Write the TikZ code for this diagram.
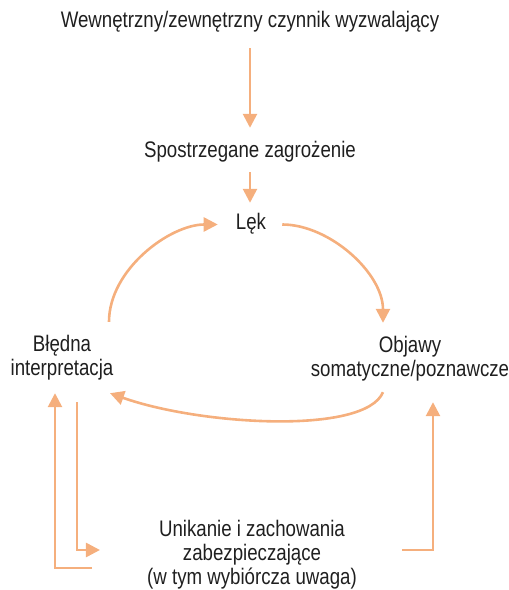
\documentclass[tikz,border=0pt]{standalone}
\usepackage{fontspec}
\setmainfont{Liberation Sans}[FakeStretch=0.83]
\usepackage{tikz}
\usetikzlibrary{arrows.meta}

\definecolor{peach}{RGB}{245,175,125}

\tikzset{
  lbl/.style={inner sep=0pt, font=\fontsize{22.5pt}{24pt}\selectfont, text=black!88},
  one/.style={lbl, text height=16pt, text depth=5pt, anchor=base},
  many/.style={lbl, align=center},
  arr/.style={draw=peach, line width=2.6pt, -{Triangle[width=14pt,length=14pt]}, color=peach}
}

\begin{document}
\begin{tikzpicture}[x=1pt,y=1pt]
\useasboundingbox (0,0) rectangle (509,590);
\node[one] (trig) at (250,562) {Wewnętrzny/zewnętrzny czynnik wyzwalający};
\node[one] (threat) at (250,432) {Spostrzegane zagrożenie};
\node[one] (lek) at (251,360) {Lęk};
\node[many] (blad) at (62,232) {Błędna\\interpretacja};
\node[many] (obj) at (410,231) {Objawy\\somatyczne/poznawcze};
\node[many] (avoid) at (252,35.5) {Unikanie i zachowania\\zabezpieczające\\(w tym wybiórcza uwaga)};
\coordinate (loopend) at (92,22);
% top chain
\draw[arr, shorten <=15pt, shorten >=14pt] (trig.south) -- (threat.north);
\draw[arr, shorten <=9pt, shorten >=11pt] (threat.south) -- (threat.south |- lek.north);
% circle
\draw[arr, shorten <=16pt, shorten >=13.5pt] (lek.east) to[out=0,in=90] ([xshift=-27pt]obj.north);
\draw[arr] ([xshift=-27pt,yshift=-10.5pt]obj.south) .. controls +(-18,-43) and +(90,-32) .. ([xshift=48pt,yshift=-12.5pt]blad.south);
\draw[arr, shorten <=13.5pt, shorten >=18pt] ([xshift=47pt]blad.north) to[out=90,in=180] (lek.west);
% avoidance loops
\draw[arr, shorten <=21.5pt, shorten >=47pt] ([xshift=15pt]blad.south) |- ([yshift=4.5pt]avoid.west);
\draw[arr, shorten >=12.5pt] (loopend) -| ([xshift=-7pt]blad.south);
\draw[arr, shorten <=45pt, shorten >=20.5pt] ([yshift=4.5pt]avoid.east) -| ([xshift=23pt]obj.south);
\end{tikzpicture}
\end{document}
